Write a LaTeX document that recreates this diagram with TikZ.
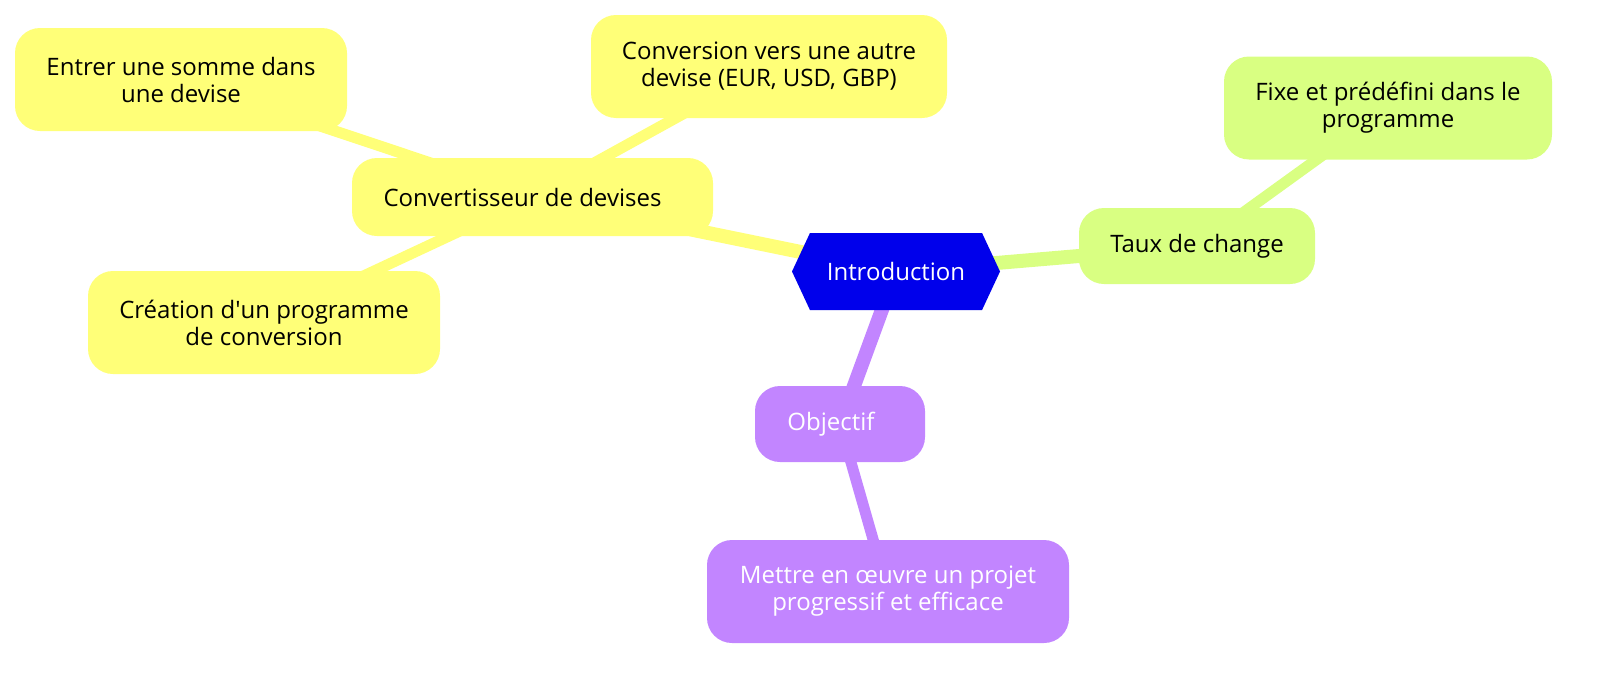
\documentclass[tikz,border=0pt]{standalone}
\usepackage{fontspec}
\setmainfont{Open Sans}
\usetikzlibrary{shapes.symbols,backgrounds}

\definecolor{rootblue}{HTML}{0000EB}
\definecolor{secyellow}{HTML}{FFFF78}
\definecolor{secgreen}{HTML}{D9FF82}
\definecolor{secpurple}{HTML}{C285FF}

\begin{document}
\begin{tikzpicture}[x=1pt,y=-1pt,
	every node/.style={font=\fontsize{24}{27}\selectfont, align=center, inner sep=0pt},
	root/.style={signal, signal to=west and east, signal pointer angle=130, fill=rootblue, text=white, minimum width=208pt, minimum height=77pt},
	box/.style={rectangle, rounded corners=25pt, minimum height=103pt},
	yellowbox/.style={box, fill=secyellow, text=black},
	greenbox/.style={box, fill=secgreen, text=black},
	purplebox/.style={box, fill=secpurple, text=white},
	edgeone/.style={line width=14pt},
	edgetwo/.style={line width=11pt}]
	\useasboundingbox (0,0) rectangle (1600,672);
	% racine
	\node[root] (intro) at (896,271.5) {Introduction};
	% branche jaune
	\node[yellowbox, minimum width=361pt, minimum height=78pt] (conv) at (532.5,197) {Convertisseur de devises\hspace*{20pt}};
	\node[yellowbox, minimum width=332pt] (entrer) at (181,79.5) {Entrer une somme dans\\une devise};
	\node[yellowbox, minimum width=356pt] (versdev) at (769,66.5) {Conversion vers une autre\\devise (EUR, USD, GBP)};
	\node[yellowbox, minimum width=352pt] (creation) at (264,322.5) {Création d\textquotesingle un programme\\de conversion};
	% branche verte
	\node[greenbox, minimum width=236pt, minimum height=76pt] (taux) at (1197,246) {Taux de change};
	\node[greenbox, minimum width=328pt] (fixe) at (1388,108) {Fixe et prédéfini dans le\\programme};
	% branche violette
	\node[purplebox, minimum width=170pt, minimum height=76pt] (objectif) at (840,424) {Objectif\hspace*{18pt}};
	\node[purplebox, minimum width=362pt] (mettre) at (888,591.5) {Mettre en œuvre un projet\\progressif et efficace};
	\begin{scope}[on background layer]
		\draw[edgeone, secyellow] (intro.center) -- (conv.center);
		\draw[edgeone, secgreen] (intro.center) -- (taux.center);
		\draw[edgeone, secpurple] (intro.center) -- (objectif.center);
		\draw[edgetwo, secyellow] (conv.center) -- (entrer.center);
		\draw[edgetwo, secyellow] (conv.center) -- (versdev.center);
		\draw[edgetwo, secyellow] (conv.center) -- (creation.center);
		\draw[edgetwo, secgreen] (taux.center) -- (fixe.center);
		\draw[edgetwo, secpurple] (objectif.center) -- (mettre.center);
	\end{scope}
\end{tikzpicture}
\end{document}
